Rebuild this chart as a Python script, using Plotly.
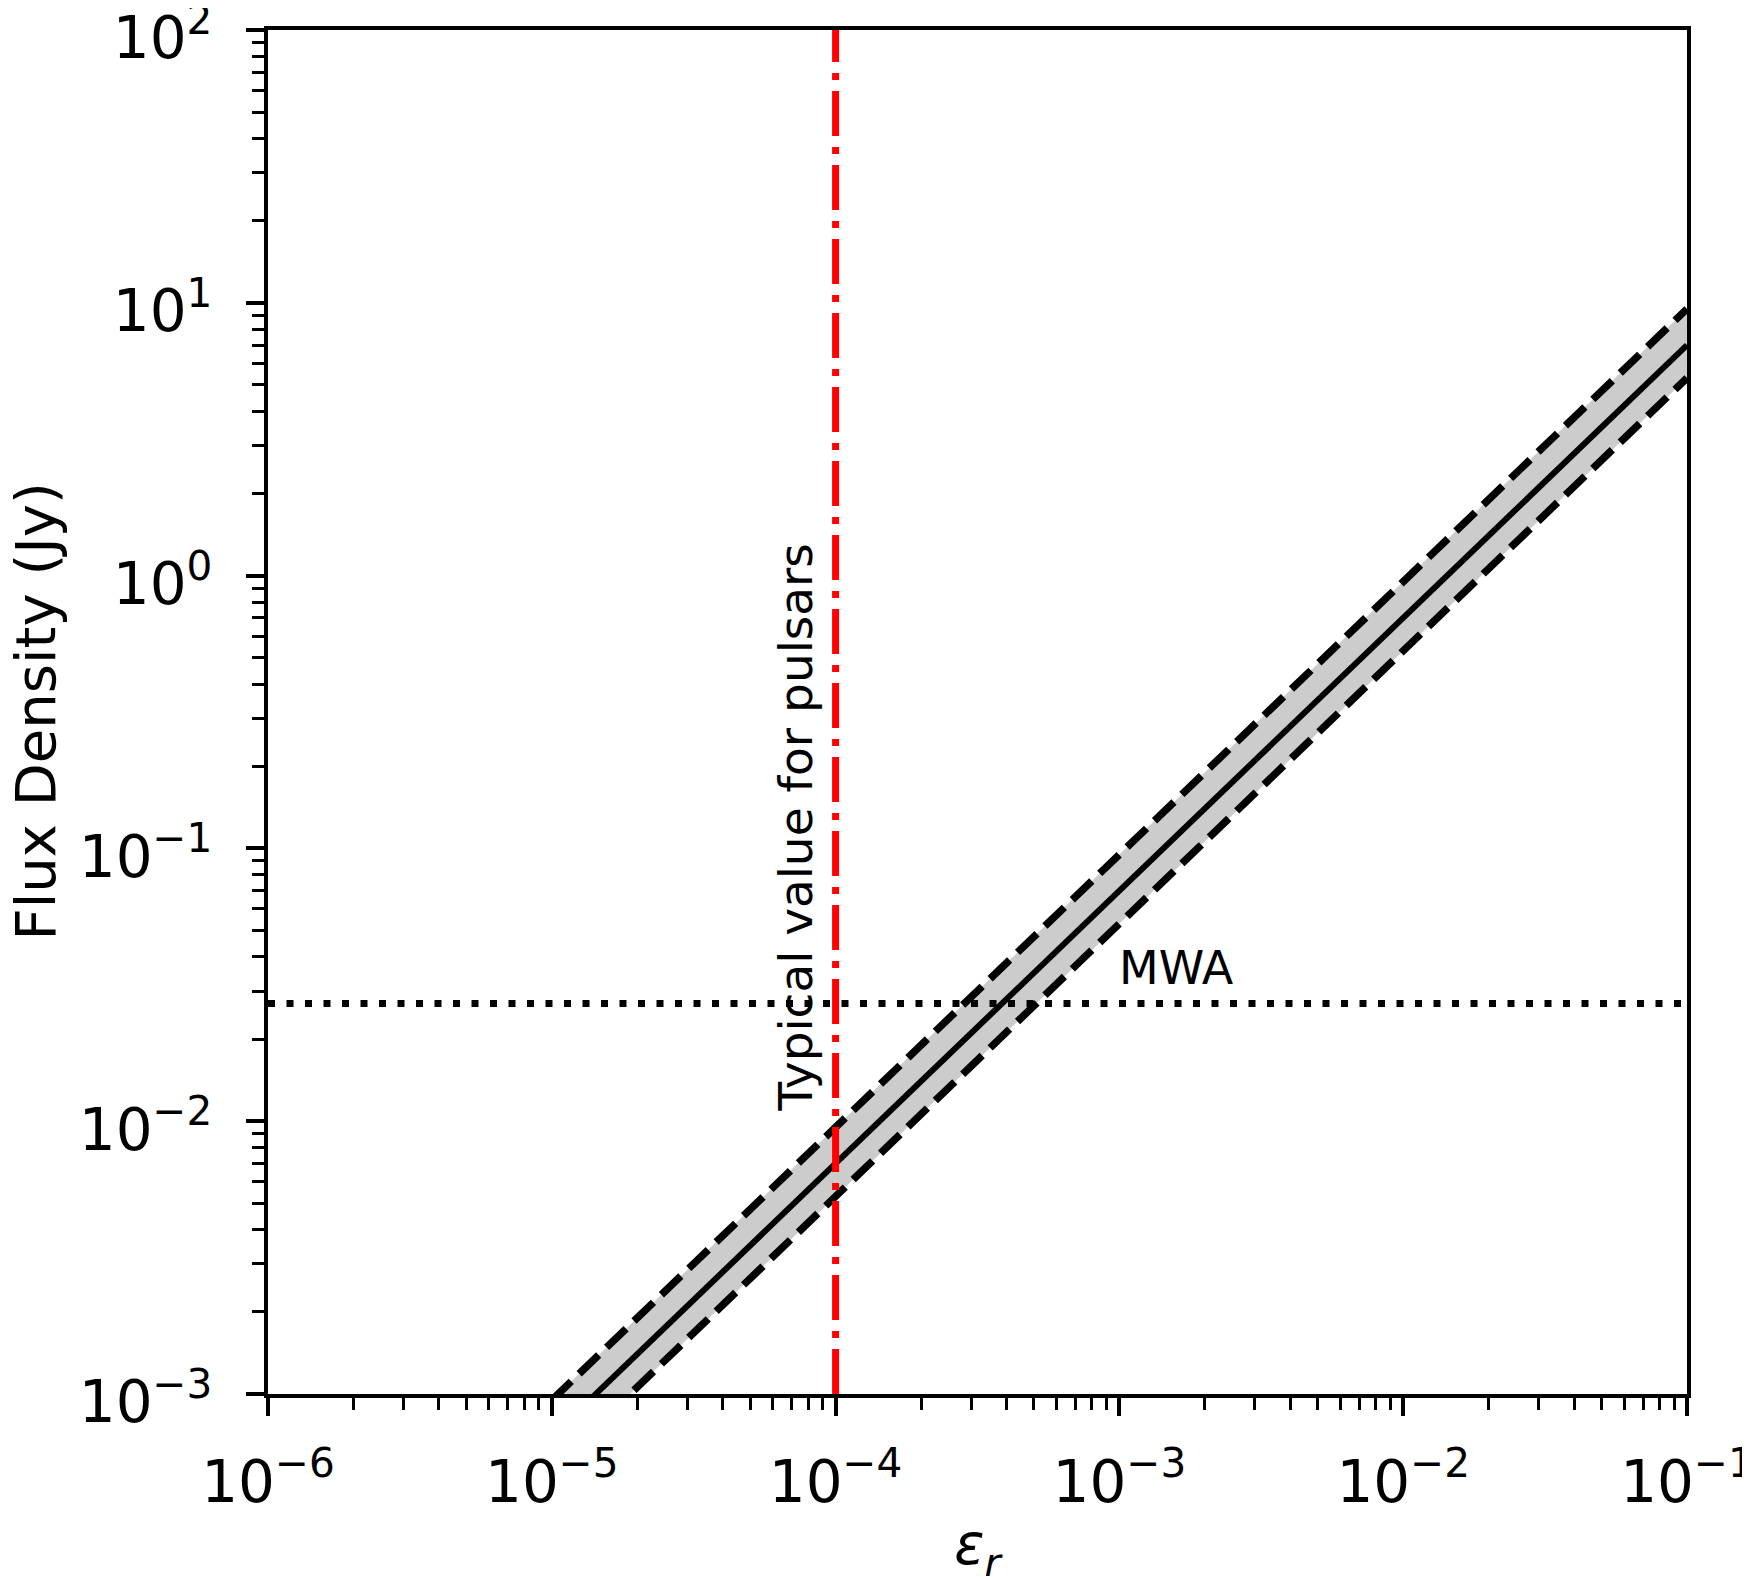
import plotly.graph_objects as go

# data
eps = [1e-5, 1e-4, 1e-3, 1e-2, 1e-1]
flux_mid = [7.0e-4, 7.0e-3, 7.0e-2, 0.70, 7.0]
flux_hi = [9.5e-4, 9.5e-3, 9.5e-2, 0.95, 9.5]
flux_lo = [5.3e-4, 5.3e-3, 5.3e-2, 0.53, 5.3]

mwa_limit = 0.027          # Jy
pulsar_eps = 1e-4

x_range = [1e-6, 1e-1]
y_range = [1e-3, 1e2]

x_ticks = [1e-6, 1e-5, 1e-4, 1e-3, 1e-2, 1e-1]
x_ticktext = ["10<sup>\u22126</sup>", "10<sup>\u22125</sup>", "10<sup>\u22124</sup>",
              "10<sup>\u22123</sup>", "10<sup>\u22122</sup>", "10<sup>\u22121</sup>"]
y_ticks = [1e-3, 1e-2, 1e-1, 1e0, 1e1, 1e2]
y_ticktext = ["10<sup>\u22123</sup>", "10<sup>\u22122</sup>", "10<sup>\u22121</sup>",
              "10<sup>0</sup>", "10<sup>1</sup>", "10<sup>2</sup>"]

FONT = "DejaVu Sans"

def minor_vals(lo_exp, hi_exp):
    return [m * 10.0 ** e for e in range(lo_exp, hi_exp) for m in range(2, 10)]

fig = go.Figure()

# shaded band
fig.add_trace(go.Scatter(x=eps, y=flux_lo, mode="lines", line=dict(width=0),
                         showlegend=False, hoverinfo="skip"))
fig.add_trace(go.Scatter(x=eps, y=flux_hi, mode="lines", line=dict(width=0),
                         fill="tonexty", fillcolor="#cccccc",
                         showlegend=False, hoverinfo="skip"))

# band edges and central line
for ys in (flux_hi, flux_lo):
    fig.add_trace(go.Scatter(x=eps, y=ys, mode="lines",
                             line=dict(color="black", width=7.5, dash="27px,11px"),
                             showlegend=False))
fig.add_trace(go.Scatter(x=eps, y=flux_mid, mode="lines",
                         line=dict(color="black", width=6), showlegend=False))

# MWA sensitivity
fig.add_trace(go.Scatter(x=x_range, y=[mwa_limit, mwa_limit], mode="lines",
                         line=dict(color="black", width=7, dash="7px,11.5px"),
                         showlegend=False))

# typical pulsar efficiency
fig.add_trace(go.Scatter(x=[pulsar_eps, pulsar_eps], y=y_range, mode="lines",
                         line=dict(color="red", width=7, dash="45px,11px,7px,11px"),
                         showlegend=False))

fig.add_annotation(x=-4, y=-0.925, xref="x", yref="y", xshift=-40,
                   text="Typical value for pulsars", textangle=-90, showarrow=False,
                   font=dict(family=FONT, size=47, color="black"))
fig.add_annotation(x=-3, y=-1.568, xref="x", yref="y", xanchor="left",
                   yanchor="middle", yshift=35, xshift=-2,
                   text="MWA", showarrow=False,
                   font=dict(family=FONT, size=46, color="black"))

# y axis title, placed by hand so it can sit right at the left edge
fig.add_annotation(x=0, y=0.5, xref="paper", yref="paper", xanchor="left",
                   yanchor="middle", xshift=-268,
                   text="Flux Density (Jy)", textangle=-90, showarrow=False,
                   font=dict(family=FONT, size=56, color="black"))

axis_common = dict(
    type="log",
    showgrid=False, zeroline=False,
    showline=True, linecolor="black", linewidth=4, mirror=True,
    ticks="outside", ticklen=18, tickwidth=4, tickcolor="black",
    tickfont=dict(family=FONT, size=58, color="black"),
    ticklabeloverflow="allow",
)

fig.update_xaxes(
    range=[-6, -1], tickvals=x_ticks, ticktext=x_ticktext,
    ticklabelstandoff=16,
    minor=dict(tickvals=minor_vals(-6, -1), ticks="outside", ticklen=12,
               tickwidth=2.5, tickcolor="black"),
    title=dict(text="<i>\u03b5<sub>r</sub></i>", font=dict(family=FONT, size=56, color="black")),
    **axis_common)
fig.update_yaxes(
    range=[-3, 2], tickvals=y_ticks, ticktext=y_ticktext,
    ticklabelstandoff=22, ticklabelshift=8,
    minor=dict(tickvals=minor_vals(-3, 2), ticks="outside", ticklen=12,
               tickwidth=2.5, tickcolor="black"),
    **axis_common)

# the page body adds an 8px offset, so margins are shifted to compensate
fig.update_layout(
    width=1750, height=1577,
    margin=dict(l=260, r=71, t=22, b=191, autoexpand=False),
    plot_bgcolor="white", paper_bgcolor="white",
    showlegend=False,
)

fig.write_html("out.html")
